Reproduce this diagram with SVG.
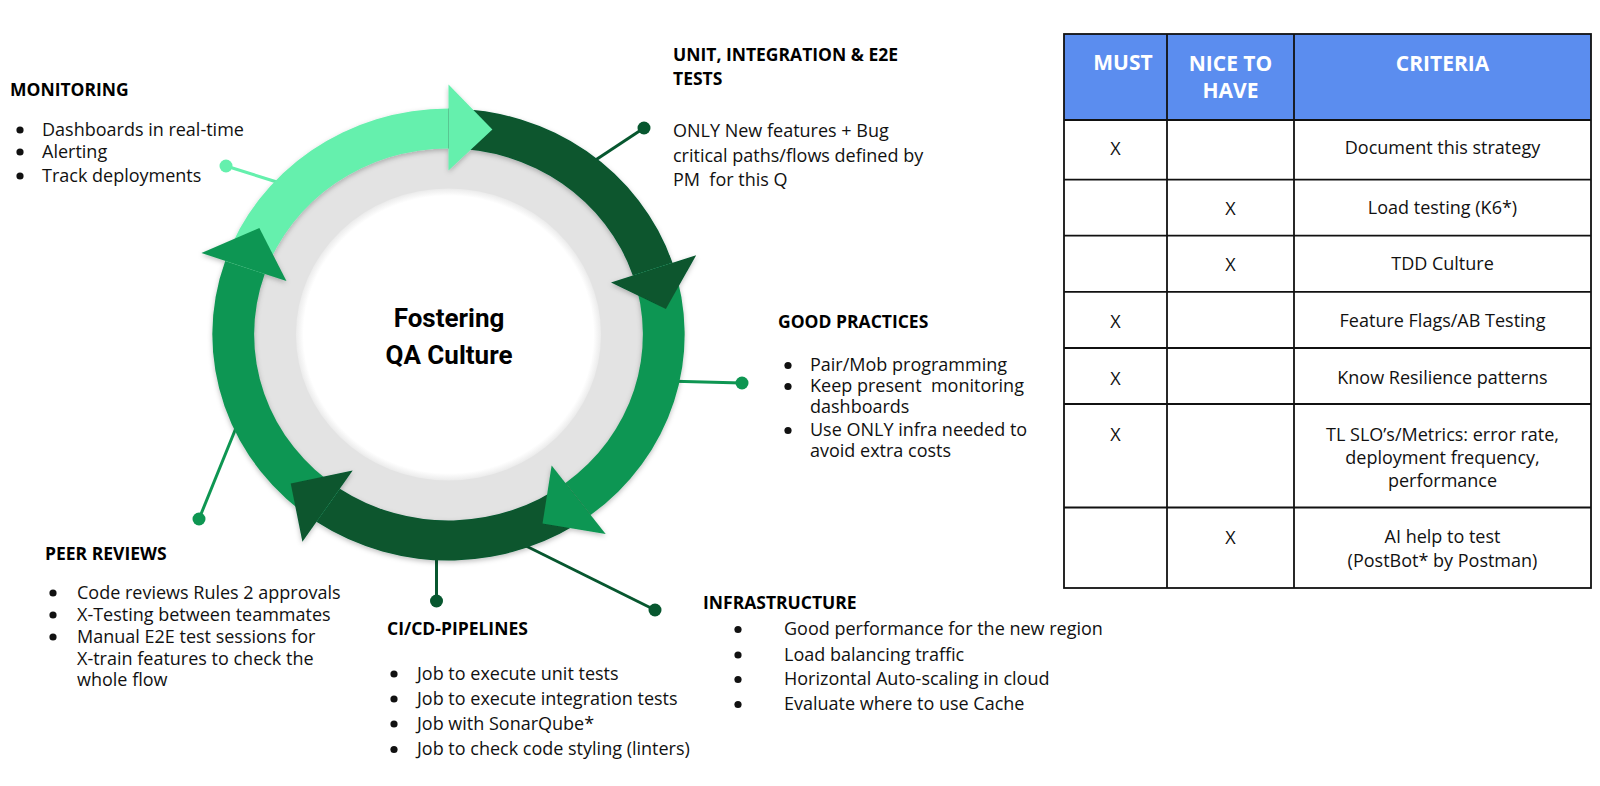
<svg xmlns="http://www.w3.org/2000/svg" width="1600" height="786" viewBox="0 0 1600 786">
<style>
.h{font-family:"Open Sans","Liberation Sans",sans-serif;font-weight:700;font-size:17.5px;fill:#000}
.b{font-family:"Open Sans","Liberation Sans",sans-serif;font-size:18px;fill:#111;white-space:pre}
.c{font-family:"Open Sans","Liberation Sans",sans-serif;font-size:18px;fill:#111;text-anchor:middle}
.th{font-family:"Open Sans","Liberation Sans",sans-serif;font-weight:700;font-size:21px;fill:#fff;text-anchor:middle}
.ctr{font-family:Roboto,"Liberation Sans",sans-serif;font-weight:700;font-size:26px;fill:#000;text-anchor:middle}
.light{fill:#65F0AD}.dark{fill:#07572F}.med{fill:#0E9652}
.lnL{stroke:#65F0AD;stroke-width:3}.lnD{stroke:#07572F;stroke-width:3}.lnM{stroke:#0E9652;stroke-width:3}
.grid{stroke:#111;stroke-width:1.8;fill:none}
</style>
<defs>
<filter id="sh" x="-20%" y="-20%" width="140%" height="140%">
<feDropShadow dx="0" dy="2" stdDeviation="2.5" flood-color="#000" flood-opacity="0.25"/>
</filter>
<radialGradient id="wg" cx="0.5" cy="0.5" r="0.5">
<stop offset="0.95" stop-color="#fff"/>
<stop offset="1" stop-color="#ebebeb"/>
</radialGradient>
</defs>
<rect width="1600" height="786" fill="#fff"/>

<g id="connectors">
<line class="lnL" x1="226" y1="166" x2="280" y2="183"/><circle class="light" cx="226" cy="166" r="6.5"/>
<line class="lnD" x1="644" y1="128" x2="588" y2="165"/><circle class="dark" cx="644" cy="128" r="6.5"/>
<line class="lnM" x1="742" y1="383" x2="665" y2="381"/><circle class="med" cx="742" cy="383" r="6.5"/>
<line class="lnM" x1="199" y1="519" x2="240" y2="418"/><circle class="med" cx="199" cy="519" r="6.5"/>
<line class="lnD" x1="436.5" y1="601" x2="436.5" y2="545"/><circle class="dark" cx="436.5" cy="601" r="6.5"/>
<line class="lnD" x1="655" y1="610" x2="518" y2="542"/><circle class="dark" cx="655" cy="610" r="6.5"/>
</g>

<g id="cycle" transform="translate(448.5,334.5) scale(1.045,1)">
<circle r="190" fill="#E3E3E3"/>
<circle r="146" fill="url(#wg)"/>
<g filter="url(#sh)">
<path class="light" d="M -213.69 -73.58 A 226 226 0 0 1 0 -226 L 0 -186 A 186 186 0 0 0 -175.87 -60.56 Z"/>
<path class="dark" d="M 0 -226 A 226 226 0 0 1 214.32 -71.71 L 176.39 -59.02 A 186 186 0 0 0 0 -186 Z"/>
<path class="med" d="M 214.32 -71.71 A 226 226 0 0 1 136.01 180.49 L 111.94 148.55 A 186 186 0 0 0 176.39 -59.02 Z"/>
<path class="dark" d="M 136.01 180.49 A 226 226 0 0 1 -126.38 187.36 L -104.01 154.20 A 186 186 0 0 0 111.94 148.55 Z"/>
<path class="med" d="M -126.38 187.36 A 226 226 0 0 1 -213.69 -73.58 L -175.87 -60.56 A 186 186 0 0 0 -104.01 154.20 Z"/>
<polygon class="light" points="0,-164 0,-250 42,-205"/>
<polygon class="dark" points="155.52,-52.04 237,-79.3 208,-25.5"/>
<polygon class="med" points="98.70,130.98 150.4,199.6 90,189"/>
<polygon class="dark" points="-91.71,135.96 -139.8,207.2 -151,149"/>
<polygon class="med" points="-155.07,-53.39 -236.4,-81.4 -181,-106.5"/>
</g>
</g>
<g id="center-label">
<text class="ctr" x="449" y="327.3">Fostering</text>
<text class="ctr" x="449" y="364">QA Culture</text>
</g>

<g id="monitoring">
<text class="h" x="10" y="96">MONITORING</text>
<circle cx="20" cy="130" r="3.6" fill="#111"/><text class="b" x="42" y="135.5">Dashboards in real-time</text>
<circle cx="20" cy="152" r="3.6" fill="#111"/><text class="b" x="42" y="157.5">Alerting</text>
<circle cx="20" cy="176" r="3.6" fill="#111"/><text class="b" x="42" y="181.5">Track deployments</text>
</g>

<g id="unit-tests">
<text class="h" x="673" y="61">UNIT, INTEGRATION &amp; E2E</text>
<text class="h" x="673" y="85">TESTS</text>
<text class="b" x="673" y="136.5">ONLY New features + Bug</text>
<text class="b" x="673" y="161.5">critical paths/flows defined by</text>
<text class="b" x="673" y="186">PM  for this Q</text>
</g>

<g id="good-practices">
<text class="h" x="778" y="327.5">GOOD PRACTICES</text>
<circle cx="788" cy="365.5" r="3.6" fill="#111"/><text class="b" x="810" y="370.7">Pair/Mob programming</text>
<circle cx="788" cy="386.5" r="3.6" fill="#111"/><text class="b" x="810" y="391.7">Keep present  monitoring</text>
<text class="b" x="810" y="412.7">dashboards</text>
<circle cx="788" cy="430.5" r="3.6" fill="#111"/><text class="b" x="810" y="436">Use ONLY infra needed to</text>
<text class="b" x="810" y="457">avoid extra costs</text>
</g>

<g id="peer-reviews">
<text class="h" x="45" y="560">PEER REVIEWS</text>
<circle cx="53" cy="593" r="3.6" fill="#111"/><text class="b" x="77" y="598.5">Code reviews Rules 2 approvals</text>
<circle cx="53" cy="615" r="3.6" fill="#111"/><text class="b" x="77" y="620.5">X-Testing between teammates</text>
<circle cx="53" cy="637" r="3.6" fill="#111"/><text class="b" x="77" y="642.7">Manual E2E test sessions for</text>
<text class="b" x="77" y="664.5">X-train features to check the</text>
<text class="b" x="77" y="685.7">whole flow</text>
</g>

<g id="cicd-pipelines">
<text class="h" x="387" y="635">CI/CD-PIPELINES</text>
<circle cx="394" cy="674" r="3.6" fill="#111"/><text class="b" x="417" y="679.5">Job to execute unit tests</text>
<circle cx="394" cy="699" r="3.6" fill="#111"/><text class="b" x="417" y="704.5">Job to execute integration tests</text>
<circle cx="394" cy="724" r="3.6" fill="#111"/><text class="b" x="417" y="729.5">Job with SonarQube*</text>
<circle cx="394" cy="749.5" r="3.6" fill="#111"/><text class="b" x="417" y="755">Job to check code styling (linters)</text>
</g>

<g id="infrastructure">
<text class="h" x="703" y="609">INFRASTRUCTURE</text>
<circle cx="738" cy="629.5" r="3.6" fill="#111"/><text class="b" x="784" y="635">Good performance for the new region</text>
<circle cx="738" cy="655" r="3.6" fill="#111"/><text class="b" x="784" y="660.5">Load balancing traffic</text>
<circle cx="738" cy="679.5" r="3.6" fill="#111"/><text class="b" x="784" y="685">Horizontal Auto-scaling in cloud</text>
<circle cx="738" cy="704.5" r="3.6" fill="#111"/><text class="b" x="784" y="710">Evaluate where to use Cache</text>
</g>

<g id="criteria-table">
<rect x="1064" y="34" width="527" height="86" fill="#5B8DEF"/>
<rect class="grid" x="1064" y="34" width="527" height="554"/>
<line class="grid" x1="1167" y1="34" x2="1167" y2="588"/>
<line class="grid" x1="1294" y1="34" x2="1294" y2="588"/>
<line class="grid" x1="1064" y1="120" x2="1591" y2="120"/>
<line class="grid" x1="1064" y1="179.6" x2="1591" y2="179.6"/>
<line class="grid" x1="1064" y1="235.7" x2="1591" y2="235.7"/>
<line class="grid" x1="1064" y1="291.8" x2="1591" y2="291.8"/>
<line class="grid" x1="1064" y1="348" x2="1591" y2="348"/>
<line class="grid" x1="1064" y1="404" x2="1591" y2="404"/>
<line class="grid" x1="1064" y1="507.5" x2="1591" y2="507.5"/>
<text class="th" x="1123" y="70">MUST</text>
<text class="th" x="1230.5" y="71">NICE TO</text>
<text class="th" x="1230.5" y="97.5">HAVE</text>
<text class="th" x="1442.5" y="71">CRITERIA</text>
<text class="c" x="1115.5" y="155">X</text>
<text class="c" x="1442.5" y="154">Document this strategy</text>
<text class="c" x="1230.5" y="214.5">X</text>
<text class="c" x="1442.5" y="213.5">Load testing (K6*)</text>
<text class="c" x="1230.5" y="271">X</text>
<text class="c" x="1442.5" y="269.5">TDD Culture</text>
<text class="c" x="1115.5" y="328">X</text>
<text class="c" x="1442.5" y="326.5">Feature Flags/AB Testing</text>
<text class="c" x="1115.5" y="385">X</text>
<text class="c" x="1442.5" y="383.5">Know Resilience patterns</text>
<text class="c" x="1115.5" y="441">X</text>
<text class="c" x="1442.5" y="441">TL SLO’s/Metrics: error rate,</text>
<text class="c" x="1442.5" y="464">deployment frequency,</text>
<text class="c" x="1442.5" y="487">performance</text>
<text class="c" x="1230.5" y="544">X</text>
<text class="c" x="1442.5" y="543">AI help to test</text>
<text class="c" x="1442.5" y="567">(PostBot* by Postman)</text>
</g>
</svg>
